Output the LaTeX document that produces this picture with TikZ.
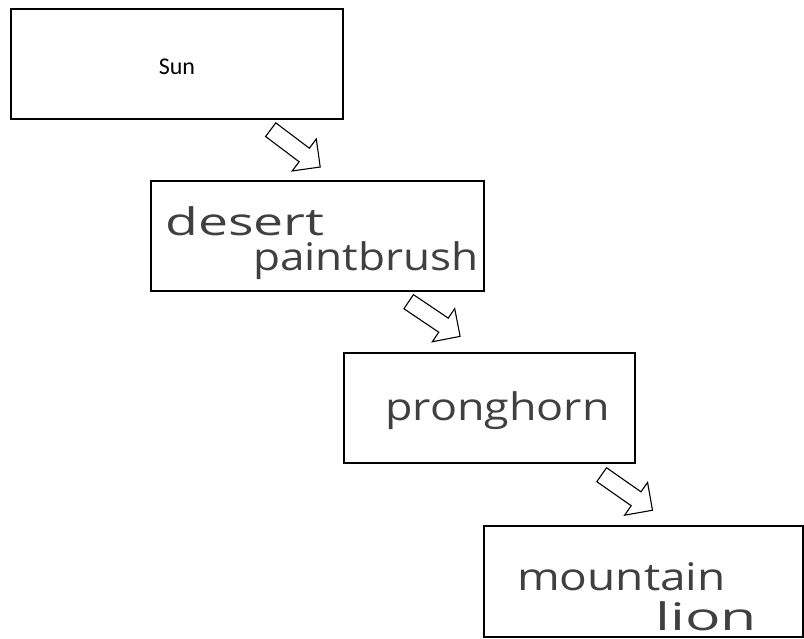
\documentclass[tikz,border=0pt]{standalone}
\usepackage{fontspec}
\setmainfont{Carlito}
\newfontfamily\hand{Open Sans}
\usetikzlibrary{calc}
\newcommand{\wide}[2]{\scalebox{#1}[1]{#2}}
\begin{document}
\begin{tikzpicture}[x=1pt,y=-1pt,
  box/.style={draw, line width=1.7pt, inner sep=0pt, anchor=north west},
  hw/.style={font=\hand\fontsize{38}{38}\selectfont, text=black!75, inner sep=0pt, anchor=base west},
  blockarrow/.pic={
    \draw[line width=1.1pt, line join=miter, fill=white]
      (0,-8.5) -- (42,-8.5) -- (42,-20) -- (62,0) -- (42,20) -- (42,8.5) -- (0,8.5) -- cycle;}]
\useasboundingbox (0,0) rectangle (804,639);

% food chain boxes
\node[box, minimum width=332pt, minimum height=110pt] (sun)   at (10,8)   {};
\node[box, minimum width=333pt, minimum height=110pt] (brush) at (150,180) {};
\node[box, minimum width=291pt, minimum height=110pt] (horn)  at (343,352) {};
\node[box, minimum width=319pt, minimum height=111pt] (lion)  at (483,525) {};

% labels
\node[font=\fontsize{24}{24}\selectfont, inner sep=0pt, anchor=base] (sunlbl) at (177,75) {Sun};
\node[hw] (desert) at (165,236) {\wide{1.41}{desert}};
\node[hw] (paint)  at (253,271) {\wide{1.16}{paintbrush}};
\node[hw] (prong)  at (385,420) {\wide{1.18}{pronghorn}};
\node[hw] (mount)  at (517,590) {\wide{1.21}{mountain}};
\node[hw] (lionlbl) at (655,630) {\wide{1.55}{lion}};

% block arrows between boxes
\coordinate (a1) at ($(sun.south east)+(-73,10)$);
\coordinate (a2) at ($(brush.south east)+(-76,10)$);
\coordinate (a3) at ($(horn.south east)+(-34,11)$);
\pic[rotate=-37] at (a1) {blockarrow};
\pic[rotate=-34] at (a2) {blockarrow};
\pic[rotate=-35] at (a3) {blockarrow};
\end{tikzpicture}
\end{document}
